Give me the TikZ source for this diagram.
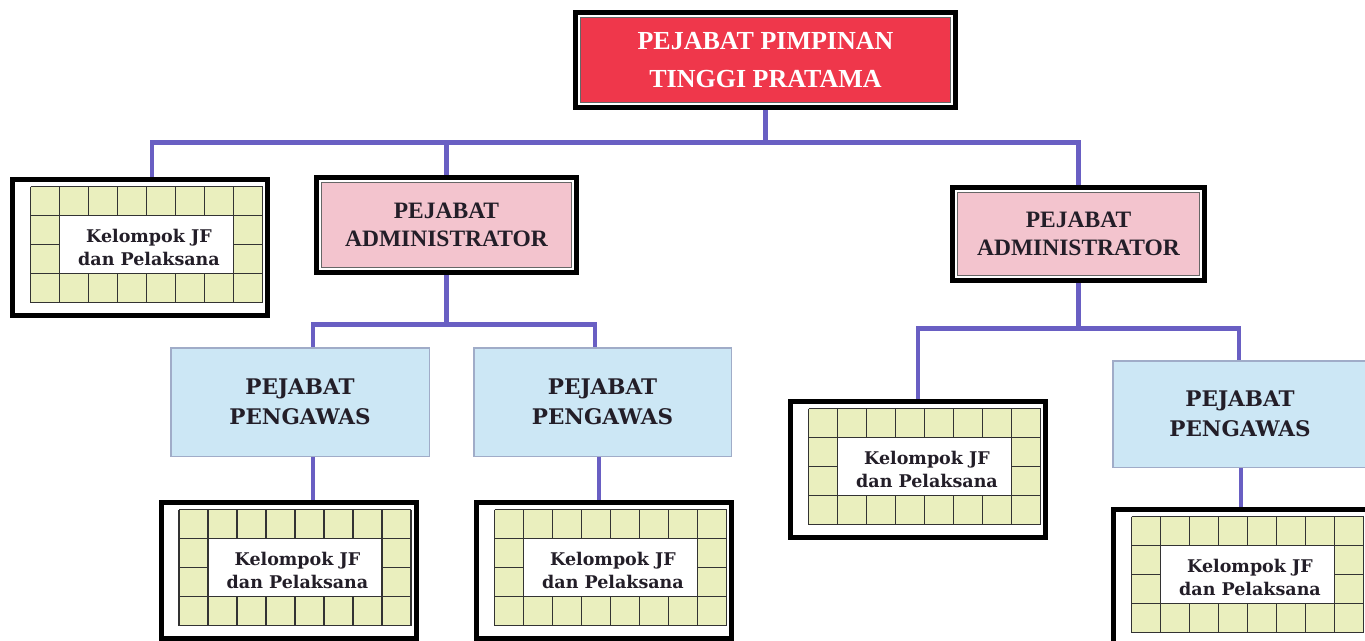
\documentclass[tikz,border=0pt]{standalone}
\usepackage{fontspec}
\newfontfamily\tnr{Liberation Serif}
\newfontfamily\cmb{DejaVu Serif}
\usetikzlibrary{calc,backgrounds}
\definecolor{toprd}{RGB}{239,55,75}
\definecolor{admpk}{RGB}{243,196,206}
\definecolor{pgblue}{RGB}{204,231,245}
\definecolor{pgedge}{RGB}{160,172,200}
\definecolor{grfill}{RGB}{234,239,190}
\definecolor{connc}{RGB}{105,95,195}
\definecolor{txtdk}{RGB}{35,30,40}
\newcommand\kgridpic{%
  \fill[grfill] (20.5,9.5) rectangle (252.5,125.5);
  \fill[white] (49.5,38.5) rectangle (223.5,96.5);
  \draw[gridln] (20.5,9.5) -- (252.5,9.5) (20.5,38.5) -- (252.5,38.5)
     (20.5,96.5) -- (252.5,96.5) (20.5,125.5) -- (252.5,125.5)
     (20.5,67.5) -- (49.5,67.5) (223.5,67.5) -- (252.5,67.5);
  \foreach \i in {0,1,7,8} \draw[gridln] (20.5+29*\i,9.5) -- (20.5+29*\i,125.5);
  \foreach \i in {2,...,6} \draw[gridln] (20.5+29*\i,9.5) -- (20.5+29*\i,38.5)
     (20.5+29*\i,96.5) -- (20.5+29*\i,125.5);
}
\tikzset{
  gridln/.style={line width=1.3pt, draw=black!80},
  dblbox/.style={draw=black, line width=5pt, fill=white, inner sep=0pt,
    path picture={\draw[line width=1.3pt, draw=black!60, fill=#1]
      ($(path picture bounding box.north west)+(5,5)$) rectangle
      ($(path picture bounding box.south east)+(-5,-5)$);}},
  topbox/.style={dblbox=toprd, text=white, align=center,
    font=\tnr\bfseries\fontsize{26}{38}\selectfont},
  admbox/.style={dblbox=admpk, text=txtdk, align=center,
    font=\tnr\bfseries\fontsize{23.5}{28}\selectfont},
  pgbox/.style={draw=pgedge, line width=1.5pt, fill=pgblue, inner sep=0pt,
    text=txtdk, align=center, font=\cmb\bfseries\fontsize{21.5}{30}\selectfont},
  kbox/.style={draw=black, line width=5pt, fill=white, inner sep=0pt,
    minimum width=255pt, minimum height=136pt},
  ktext/.style={text=txtdk, align=center, inner sep=0pt,
    font=\cmb\bfseries\fontsize{17.5}{23.5}\selectfont},
  conn/.style={draw=connc, line width=4.5pt, line join=miter},
}
\begin{document}
\begin{tikzpicture}[x=1pt,y=-1pt]
\path[use as bounding box] (0,0) rectangle (1365,640);
\clip (0,0) rectangle (1365,640);
% top
\node[topbox, minimum width=380pt, minimum height=95pt] (top) at (765.5,60) {PEJABAT PIMPINAN\\TINGGI PRATAMA};
% administrators
\node[admbox, minimum width=260pt, minimum height=95pt] (a1) at (446.5,225) {PEJABAT\\ADMINISTRATOR};
\node[admbox, minimum width=252pt, minimum height=93pt] (a2) at (1078.5,234) {PEJABAT\\ADMINISTRATOR};
% pengawas
\node[pgbox, minimum width=258.5pt, minimum height=108.5pt] (p1) at (300,402) {PEJABAT\\PENGAWAS};
\node[pgbox, minimum width=257.5pt, minimum height=108.5pt] (p2) at (602.5,402) {PEJABAT\\PENGAWAS};
\node[pgbox, minimum width=254.5pt, minimum height=106.5pt] (p3) at (1240,414) {PEJABAT\\PENGAWAS};
% kelompok boxes
\node[kbox] (g1) at (140,247.5) {};
\node[kbox] (g2) at (288.5,570.5) {};
\node[kbox] (g3) at (604,570.5) {};
\node[kbox] (g4) at (918,469.5) {};
\node[kbox] (g5) at (1241,577.5) {};
\foreach \g in {g1,g2,g3,g4,g5}{
  \begin{scope}[shift={(\g.north west)}]\kgridpic\end{scope}
  \node[ktext] (\g t) at ($(\g.center)+(9,0)$) {Kelompok JF\\dan Pelaksana};
}
% connectors
\begin{pgfonlayer}{background}
\fill[white] (0,0) rectangle (1365,640);
\draw[conn] (top.south) -- ++(0,32.5) coordinate (jt);
\draw[conn] ($(g1.north)+(12,0)$) |- (jt) -| (a2.north);
\draw[conn] (a1.north) -- (a1.north |- jt);
\draw[conn] (a1.south) -- ++(0,49.5) coordinate (j1);
\draw[conn] ($(p1.north)+(13,0)$) |- (j1) -| ($(p2.north)+(-7.5,0)$);
\draw[conn] ($(p1.south)+(13,0)$) coordinate (s1) -- (s1 |- g2.north);
\draw[conn] ($(p2.south)+(-3.5,0)$) coordinate (s2) -- (s2 |- g3.north);
\draw[conn] (a2.south) -- ++(0,45.5) coordinate (j2);
\draw[conn] (g4.north) |- (j2) -| ($(p3.north)+(-1,0)$);
\draw[conn] ($(p3.south)+(1,0)$) coordinate (s3) -- (s3 |- g5.north);
\end{pgfonlayer}
\end{tikzpicture}
\end{document}
